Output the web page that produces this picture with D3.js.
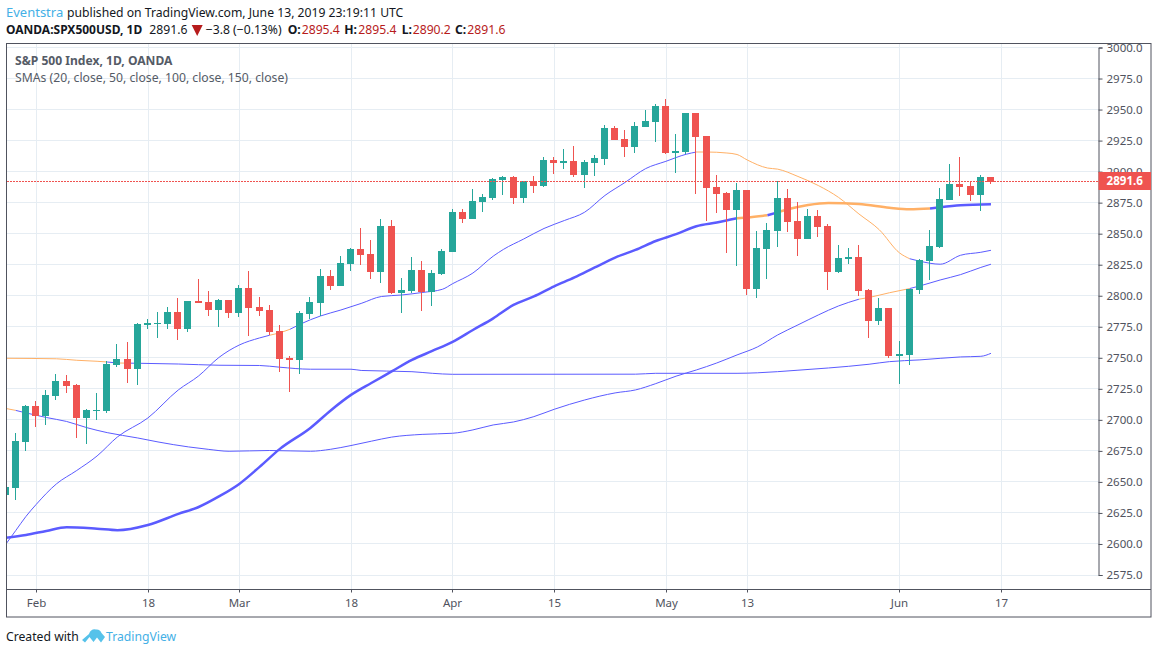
<!DOCTYPE html>
<html>
<head>
<meta charset="utf-8">
<script src="https://cdnjs.cloudflare.com/ajax/libs/d3/7.8.5/d3.min.js"></script>
<style>
    html, body { margin: 0; padding: 0; background: #fff; }
    svg { display: block; }
    text { font-family: "Noto Sans", sans-serif; }
</style>
</head>
<body>
<div id="my_chart"></div>
<script>
// daily candles, first one is the half hidden bar at the left edge
var opens = [2639.5,2645.1,2682.2,2711.2,2703.1,2719.2,2731.3,2728.1,2701.5,2707.2,2707.2,2744.2,2749.1,2741.0,2776.4,2777.3,2777.3,2786.9,2773.2,2795.8,2795.0,2788.5,2796.6,2786.1,2806.3,2790.9,2788.5,2771.6,2749.9,2748.2,2785.3,2794.2,2815.9,2807.9,2825.6,2837.7,2833.6,2819.2,2856.2,2802.2,2803.8,2820.8,2803.0,2817.5,2835.3,2867.5,2861.8,2875.5,2878.8,2893.3,2895.7,2878.8,2892.5,2888.4,2909.4,2907.0,2908.6,2897.3,2907.0,2910.2,2935.2,2926.3,2919.8,2936.0,2940.0,2952.9,2915.0,2915.8,2947.2,2928.7,2887.6,2882.8,2869.1,2885.2,2805.5,2837.7,2852.2,2878.8,2860.2,2845.7,2864.3,2856.2,2819.2,2829.6,2831.2,2804.6,2779.7,2790.1,2751.5,2752.3,2804.6,2828.0,2839.3,2877.2,2890.0,2888.4,2881.2,2895.4];
var highs = [2647.5,2689.4,2711.6,2715.2,2724.1,2737.0,2736.2,2728.9,2708.8,2721.7,2747.4,2761.2,2762.8,2778.1,2781.3,2786.9,2790.9,2798.2,2795.8,2813.5,2803.8,2797.4,2796.6,2808.7,2820.0,2799.0,2792.6,2776.4,2751.5,2787.7,2799.0,2821.6,2820.8,2832.0,2838.5,2854.6,2844.9,2861.8,2861.0,2814.3,2831.2,2828.0,2820.8,2837.7,2869.9,2869.9,2886.0,2882.0,2894.9,2896.5,2896.5,2892.5,2896.5,2911.8,2911.8,2918.2,2920.6,2909.4,2913.4,2937.6,2936.8,2933.6,2940.0,2949.7,2954.5,2958.5,2930.3,2947.2,2947.2,2928.7,2897.3,2883.6,2890.9,2885.2,2852.2,2858.6,2892.5,2886.0,2875.5,2869.9,2869.1,2857.8,2840.9,2838.5,2840.9,2805.5,2798.2,2790.1,2763.6,2805.5,2829.6,2853.0,2886.8,2906.2,2911.8,2892.5,2897.3,2895.4];
var lows = [2636.3,2635.5,2674.9,2694.3,2695.9,2716.0,2721.7,2685.4,2680.6,2699.9,2705.6,2742.6,2729.7,2728.1,2773.2,2766.0,2773.2,2764.4,2770.8,2794.2,2783.7,2774.8,2782.1,2782.9,2767.6,2783.7,2768.4,2738.6,2722.5,2737.0,2781.3,2783.7,2804.6,2807.9,2820.0,2824.8,2813.5,2810.3,2801.4,2786.1,2802.2,2787.7,2791.8,2816.7,2835.3,2858.6,2861.8,2867.5,2877.2,2881.2,2873.9,2874.7,2882.8,2887.6,2898.1,2902.1,2895.7,2886.8,2896.5,2905.3,2925.5,2911.8,2915.0,2936.0,2923.9,2914.2,2898.9,2914.2,2882.0,2860.2,2866.7,2834.5,2824.0,2800.6,2798.2,2813.5,2839.3,2851.4,2832.0,2845.7,2847.3,2804.6,2818.4,2825.6,2799.8,2766.0,2776.4,2749.9,2728.9,2744.2,2801.4,2812.7,2838.5,2877.2,2880.4,2876.3,2868.3,2890.2];
var closes = [2645.9,2683.0,2711.2,2703.1,2720.0,2731.3,2727.3,2701.5,2708.0,2708.0,2745.0,2749.1,2741.0,2777.3,2778.1,2778.1,2786.9,2773.2,2795.8,2794.2,2788.5,2796.6,2786.1,2806.3,2790.1,2787.7,2770.8,2749.1,2748.2,2786.1,2795.0,2815.9,2807.9,2826.4,2837.7,2832.8,2819.2,2856.2,2802.2,2804.6,2820.8,2803.0,2818.4,2836.1,2867.5,2861.8,2876.3,2879.6,2894.1,2895.7,2878.8,2892.5,2888.4,2909.4,2907.0,2908.6,2897.3,2907.8,2911.0,2935.2,2925.5,2919.8,2936.8,2940.8,2952.9,2915.0,2916.6,2947.2,2927.9,2886.8,2882.0,2869.1,2885.2,2805.5,2838.5,2853.0,2878.8,2859.4,2845.7,2864.3,2855.4,2819.2,2830.4,2831.2,2803.8,2779.7,2790.1,2751.5,2753.1,2805.5,2828.8,2840.1,2878.0,2890.0,2887.6,2881.2,2895.4,2891.6];

// moving averages at these bars
var sma20Bars = [0,1,2,3,5,7,9,11,14,17,19,21,23,25,26,27,28,29,31,33,35,37,39,41,43,44,46,48,49,51,53,55,57,59,61,63,65,67,68,69,71,72,73,75,76,78,80,82,84,86,88,89,90,92,94,96,97];
var sma20 = [2599.6,2610.9,2622.2,2631.8,2648.4,2659.2,2670.9,2686.2,2701.5,2724.1,2735.4,2750.3,2760.3,2766.0,2768.2,2770.2,2773.0,2777.1,2783.7,2788.5,2793.8,2799.4,2800.6,2802.6,2805.2,2809.7,2818.3,2831.9,2837.3,2845.7,2854.2,2860.6,2867.3,2880.8,2891.4,2902.4,2908.3,2914.0,2915.8,2915.8,2915.0,2913.8,2909.4,2902.9,2902.0,2896.1,2888.8,2879.2,2865.9,2853.2,2834.5,2829.8,2827.8,2825.4,2832.6,2835.0,2836.6];
var sma50Bars = [0,2,4,6,9,11,14,17,19,21,23,25,27,30,32,34,36,38,40,42,44,46,48,50,52,54,56,58,60,62,64,66,68,70,72,73,75,76,77,79,81,84,87,89,91,92,94,97];
var sma50 = [2604.9,2607.3,2610.5,2613.5,2612.3,2611.1,2615.3,2624.2,2629.8,2638.3,2648.4,2662.1,2676.6,2693.5,2707.6,2720.1,2729.7,2739.0,2748.3,2755.5,2762.8,2772.4,2781.8,2792.6,2799.4,2807.5,2814.7,2822.8,2830.7,2836.9,2844.1,2849.6,2856.0,2859.0,2862.4,2863.1,2864.8,2867.2,2869.7,2873.1,2874.7,2873.9,2870.9,2869.7,2870.3,2871.3,2872.9,2873.7];
var sma100Bars = [0,1,2,4,6,8,10,13,15,18,20,22,26,30,32,34,36,38,41,44,46,48,50,52,54,57,60,62,64,66,68,70,72,74,76,78,80,82,84,85,87,89,90,92,94,96,97];
var sma100 = [2709.2,2707.6,2705.6,2701.9,2698.7,2693.7,2689.7,2685.4,2682.2,2678.2,2676.2,2674.7,2675.3,2674.7,2676.3,2679.3,2682.8,2686.1,2688.3,2689.2,2691.9,2695.9,2698.3,2702.6,2708.5,2716.0,2721.7,2724.1,2729.2,2735.2,2740.2,2745.8,2752.3,2758.7,2768.4,2776.5,2784.5,2791.8,2797.2,2798.6,2802.4,2805.8,2807.9,2812.7,2817.0,2822.8,2825.4];
var sma150Bars = [0,5,7,9,10,11,12,13,17,21,25,27,30,34,35,40,42,44,62,64,72,74,78,81,85,87,90,94,96,97];
var sma150 = [2749.6,2749.2,2748.0,2747.2,2746.6,2745.8,2745.7,2745.6,2745.0,2744.0,2743.8,2742.4,2740.8,2740.8,2739.8,2738.8,2737.5,2736.7,2736.8,2737.5,2737.5,2737.9,2740.0,2741.8,2744.8,2746.9,2748.3,2750.7,2751.2,2753.6];

var priceTicks = [2575,2600,2625,2650,2675,2700,2725,2750,2775,2800,2825,2850,2875,2900,2925,2950,2975,3000];
var timeTickBars = [3,14,23,34,44,54,65,73,88,98];
var timeTickLabels = ["Feb","18","Mar","18","Apr","15","May","13","Jun","17"];
var lastPrice = 2891.6;

var upColor = "#26a69a",
    downColor = "#ef5350",
    smaBelow = "#5b5bff",
    smaAbove = "#ffb066",
    gridColor = "#e6edf3",
    frameColor = "#50535e";

var width = 1158, height = 654;
var plot = {left: 6.5, right: 1098.5, top: 43.5, bottom: 589.5, outerRight: 1151, outerBottom: 617};

var svg = d3.select("#my_chart")
    .append("svg")
    .attr("width", width)
    .attr("height", height);

var x = d3.scaleLinear().domain([0, 107]).range([5.84, 1092.75]);
var y = d3.scaleLinear().domain([2575, 3000]).range([575, 47.5]);

function snap(v) {
    return Math.floor(v) + 0.5;
}

// candles sit a little left of the grid lines
function barX(bar) {
    return snap(x(bar) - 0.7);
}

// headline
var head = svg.append("g").style("font-size", "12.2px");
head.append("text").attr("x", 6).attr("y", 17)
    .attr("fill", "#44b0e6").style("font-size", "13px").text("Eventstra");
head.append("text").attr("x", 67).attr("y", 17)
    .attr("fill", "#131722").text("published on TradingView.com, June 13, 2019 23:19:11 UTC");

var quote = [
    {x: 6, text: "OANDA:SPX500USD, 1D", bold: true, color: "#131722"},
    {x: 149.3, text: "2891.6", color: "#131722"},
    {x: 205.7, text: "\u22123.8 (\u22120.13%)", color: "#131722"},
    {x: 287.7, text: "O:", bold: true, color: "#131722"},
    {x: 301.7, text: "2895.4", color: "#b71c1c"},
    {x: 344.3, text: "H:", bold: true, color: "#131722"},
    {x: 358.3, text: "2895.4", color: "#b71c1c"},
    {x: 401.7, text: "L:", bold: true, color: "#131722"},
    {x: 412.7, text: "2890.2", color: "#b71c1c"},
    {x: 455, text: "C:", bold: true, color: "#131722"},
    {x: 467.3, text: "2891.6", color: "#b71c1c"}
];
head.selectAll(".quote")
    .data(quote)
    .enter().append("text")
    .attr("class", "quote")
    .attr("x", function (d) { return d.x; })
    .attr("y", 34)
    .attr("font-weight", function (d) { return d.bold ? "bold" : "normal"; })
    .attr("fill", function (d) { return d.color; })
    .style("font-size", function (d) { return d.bold && d.x < 10 ? "12px" : "12.2px"; })
    .text(function (d) { return d.text; });
head.append("path")
    .attr("d", "M191.7,25 L202.7,25 L197.2,36 Z")
    .attr("fill", "#b71c1c");

// grid
svg.append("g").selectAll("line")
    .data(priceTicks)
    .enter().append("line")
    .attr("x1", plot.left).attr("x2", plot.right)
    .attr("y1", function (d) { return snap(y(d)); })
    .attr("y2", function (d) { return snap(y(d)); })
    .attr("stroke", gridColor);
svg.append("g").selectAll("line")
    .data(timeTickBars)
    .enter().append("line")
    .attr("x1", function (d) { return snap(x(d)); })
    .attr("x2", function (d) { return snap(x(d)); })
    .attr("y1", plot.top).attr("y2", plot.bottom)
    .attr("stroke", gridColor);

svg.append("clipPath").attr("id", "plot_clip")
    .append("rect")
    .attr("x", plot.left).attr("y", plot.top)
    .attr("width", plot.right - plot.left)
    .attr("height", plot.bottom - plot.top);
var chart = svg.append("g").attr("clip-path", "url(#plot_clip)");

// an average is blue while the bar closes over it and orange while it closes under
function drawSma(bars, values, strokeWidth) {
    var runs = [];
    for (var i = 1; i < bars.length; i++) {
        var color = closes[bars[i]] >= values[i] ? smaBelow : smaAbove;
        var pair = [{bar: bars[i - 1], value: values[i - 1]}, {bar: bars[i], value: values[i]}];
        if (runs.length && runs[runs.length - 1].color === color) {
            runs[runs.length - 1].points.push(pair[1]);
        } else {
            runs.push({color: color, points: pair});
        }
    }
    var line = d3.line()
        .curve(d3.curveMonotoneX)
        .x(function (d) { return x(d.bar) - 0.2; })
        .y(function (d) { return y(d.value); });
    chart.append("g").selectAll("path")
        .data(runs)
        .enter().append("path")
        .attr("d", function (d) { return line(d.points); })
        .attr("fill", "none")
        .attr("stroke", function (d) { return d.color; })
        .attr("stroke-width", strokeWidth)
        .attr("stroke-linejoin", "round");
}
drawSma(sma150Bars, sma150, 1);
drawSma(sma100Bars, sma100, 1);
drawSma(sma50Bars, sma50, 2.5);
drawSma(sma20Bars, sma20, 1);

// candles
var candles = chart.append("g").selectAll("g")
    .data(closes)
    .enter().append("g")
    .attr("shape-rendering", "crispEdges")
    .attr("fill", function (d, i) { return d >= opens[i] ? upColor : downColor; });
candles.append("rect")
    .attr("x", function (d, i) { return barX(i) - 0.5; })
    .attr("width", 1)
    .attr("y", function (d, i) { return Math.round(y(highs[i])); })
    .attr("height", function (d, i) { return Math.round(y(lows[i])) - Math.round(y(highs[i])); });
candles.append("rect")
    .attr("x", function (d, i) { return barX(i) - 3.5; })
    .attr("width", 7)
    .attr("y", function (d, i) { return Math.round(y(Math.max(d, opens[i]))); })
    .attr("height", function (d, i) {
        return Math.max(1, Math.round(y(Math.min(d, opens[i]))) - Math.round(y(Math.max(d, opens[i]))));
    });

// last price line
chart.append("line")
    .attr("x1", plot.left).attr("x2", plot.right)
    .attr("y1", snap(y(lastPrice) - 0.6)).attr("y2", snap(y(lastPrice) - 0.6))
    .attr("stroke", downColor)
    .attr("shape-rendering", "crispEdges")
    .attr("stroke-dasharray", "2,1");

// study titles
svg.append("text").attr("x", 15).attr("y", 65)
    .attr("fill", "#555b66").attr("font-weight", "bold").style("font-size", "12.1px")
    .text("S&P 500 Index, 1D, OANDA");
svg.append("text").attr("x", 15).attr("y", 82)
    .attr("fill", "#555b66").style("font-size", "12.2px")
    .text("SMAs (20, close, 50, close, 100, close, 150, close)");

// frame
svg.append("rect")
    .attr("x", plot.left).attr("y", plot.top)
    .attr("width", plot.outerRight - plot.left)
    .attr("height", plot.outerBottom - plot.top)
    .attr("fill", "none").attr("stroke", frameColor);

// axes
var priceAxis = svg.append("g")
    .attr("transform", "translate(" + plot.right + ",0)")
    .call(d3.axisRight(y)
        .tickValues(priceTicks)
        .tickSize(4)
        .tickPadding(4)
        .tickFormat(d3.format(".1f")));
priceAxis.selectAll("text").style("font-size", "11.5px").attr("fill", frameColor)
    .style("font-family", '"Noto Sans", sans-serif');
priceAxis.selectAll("line").attr("stroke", frameColor);
priceAxis.select(".domain").attr("stroke", frameColor);

var timeAxis = svg.append("g")
    .attr("transform", "translate(0," + plot.bottom + ")")
    .call(d3.axisBottom(x)
        .tickValues(timeTickBars)
        .tickSize(3)
        .tickPadding(6)
        .tickFormat(function (d, i) { return timeTickLabels[i]; }));
timeAxis.selectAll(".tick").attr("transform", function (d) { return "translate(" + snap(x(d)) + ",0)"; });
timeAxis.selectAll("text").style("font-size", "11.5px").attr("fill", frameColor)
    .style("font-family", '"Noto Sans", sans-serif');
timeAxis.selectAll("line").attr("stroke", frameColor);
timeAxis.select(".domain")
    .attr("d", "M" + plot.left + ",0H" + plot.outerRight)
    .attr("stroke", frameColor);

// last price tag
svg.append("rect")
    .attr("x", plot.right).attr("y", 172)
    .attr("width", plot.outerRight - plot.right).attr("height", 18)
    .attr("fill", downColor);
svg.append("text")
    .attr("x", 1106.5).attr("y", 185)
    .attr("fill", "#fff").attr("font-weight", "bold").style("font-size", "11.6px")
    .text(d3.format(".1f")(lastPrice));

// footer
svg.append("text").attr("x", 6).attr("y", 641)
    .attr("fill", "#131722").style("font-size", "12.2px")
    .text("Created with");
svg.append("path")
    .attr("d", "M82,640 L89,634 Q91,628.5 96,629.5 Q100,629 101.5,633 L105,637 L101,642.5 L97,637.5 L93.5,642 L89.5,637 L85,642.5 Z")
    .attr("fill", "#56c2ea");
svg.append("text").attr("x", 106).attr("y", 641)
    .attr("fill", "#44b0e6").style("font-size", "12.2px")
    .text("TradingView");
</script>
</body>
</html>
